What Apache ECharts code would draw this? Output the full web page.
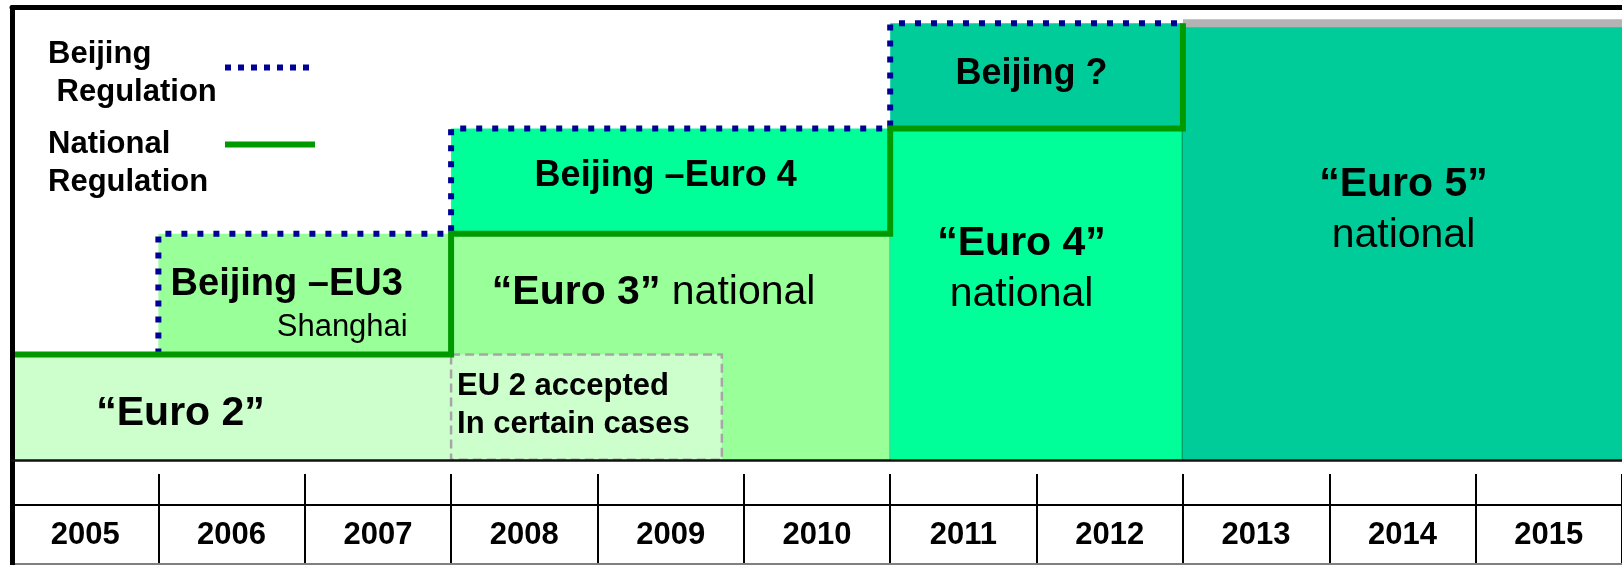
<!DOCTYPE html>
<html>
<head>
<meta charset="utf-8">
<title>Vehicle emission standards in China</title>
<script src="https://cdn.jsdelivr.net/npm/echarts@6/dist/echarts.min.js"></script>
<style>
  html, body { margin: 0; padding: 0; background: #fff; }
  #chart { width: 1622px; height: 565px; }
</style>
</head>
<body>
<div id="chart"></div>
<script>
// years in the table under the chart
var years = ['2005', '2006', '2007', '2008', '2009', '2010', '2011', '2012', '2013', '2014', '2015'];

// national standards (start year, end year, level of the step)
var natStart = [2005, 2008, 2011, 2013];
var natEnd = [2008, 2011, 2013, 2016];
var natLevel = [1, 2.15, 3.15, 4.15];
var natLabel = ['“Euro 2”', '“Euro 3”', '“Euro 4”', '“Euro 5”'];
var natSub = ['', 'national', 'national', 'national'];

// Beijing local standards, sitting on top of the national level of the time
var bjStart = [2006, 2008, 2011];
var bjEnd = [2008, 2011, 2013];
var bjBase = [1, 2.15, 3.15];
var bjLevel = [2.15, 3.15, 4.15];
var bjLabel = ['Beijing –EU3', 'Beijing –Euro 4', 'Beijing ?'];
var bjSub = ['Shanghai', '', ''];

// transition: EU 2 still accepted
var eu2Start = [2008];
var eu2End = [2009.85];
var eu2Level = [1];
var eu2Label = [['EU 2 accepted', 'In certain cases']];

// legend texts
var legendLines = {
  'Beijing Regulation': ['Beijing', ' Regulation'],
  'National Regulation': ['National', 'Regulation']
};

var FONT = '"Liberation Sans", Arial, sans-serif';
var natColors = ['#ccffcc', '#99ff99', '#00ff99', '#00cc99'];
var bjColors = ['#99ff99', '#00ff99', '#00cc99'];

// label placement, px from the box centre / top
var natLayout = [
  { dx: -51, dy: 59 },
  { dx: -17, dy: 59, inline: true },
  { dx: -15, dy: 115, gap: 51 },
  { dx: 1, dy: 161, gap: 51 }
];
var natEdge = [
  null,
  { side: 'right', color: '#8c8c8c', width: 1.5 },
  { side: 'right', color: '#009966', width: 2.5 },
  { side: 'top', color: '#b3b3b3', width: 8 }
];
var bjLayout = [
  { dx: -18, size: 38, dy: 51, subDx: 103, subDy: 94 },
  { dx: -5, size: 36, dy: 48 },
  { dx: -5, size: 36, dy: 51 }
];

var richBig = {
  b: { fontFamily: FONT, fontSize: 41, fontWeight: 'bold', fill: '#000' },
  r: { fontFamily: FONT, fontSize: 41, fill: '#000' }
};

function textEl(x, y, text, rich, align) {
  return {
    type: 'text', x: x, y: y, z2: 10,
    style: { text: text, rich: rich, align: align || 'center', verticalAlign: 'middle', fill: '#000' }
  };
}

function boxRect(api) {
  var tl = api.coord([api.value(0), api.value(3)]);
  var br = api.coord([api.value(1), api.value(2)]);
  return { x: tl[0], y: tl[1], width: br[0] - tl[0], height: br[1] - tl[1] };
}

function renderNational(params, api) {
  var i = params.dataIndex;
  var r = boxRect(api);
  var lay = natLayout[i];
  var cx = r.x + r.width / 2 + lay.dx;
  var kids = [{ type: 'rect', shape: r, style: { fill: natColors[i] } }];
  var e = natEdge[i];
  if (e) {
    var shape = e.side === 'right'
      ? { x1: r.x + r.width, y1: r.y, x2: r.x + r.width, y2: r.y + r.height }
      : { x1: r.x, y1: r.y, x2: r.x + r.width, y2: r.y };
    kids.push({ type: 'line', shape: shape, style: { stroke: e.color, lineWidth: e.width } });
  }
  if (lay.inline) {
    kids.push(textEl(cx, r.y + lay.dy, '{b|' + natLabel[i] + '}{r| ' + natSub[i] + '}', richBig));
  } else {
    kids.push(textEl(cx, r.y + lay.dy, '{b|' + natLabel[i] + '}', richBig));
    if (natSub[i]) {
      kids.push(textEl(cx, r.y + lay.dy + lay.gap, '{r|' + natSub[i] + '}', richBig));
    }
  }
  return { type: 'group', children: kids };
}

function renderBeijing(params, api) {
  var i = params.dataIndex;
  var r = boxRect(api);
  var lay = bjLayout[i];
  var cx = r.x + r.width / 2;
  var kids = [{ type: 'rect', shape: r, style: { fill: bjColors[i] } }];
  kids.push(textEl(cx + lay.dx, r.y + lay.dy, '{b|' + bjLabel[i] + '}', {
    b: { fontFamily: FONT, fontSize: lay.size, fontWeight: 'bold', fill: '#000' }
  }));
  if (bjSub[i]) {
    kids.push(textEl(cx + lay.subDx, r.y + lay.subDy, '{r|' + bjSub[i] + '}', {
      r: { fontFamily: FONT, fontSize: 31, fill: '#000' }
    }, 'right'));
  }
  return { type: 'group', children: kids };
}

function renderEu2(params, api) {
  var i = params.dataIndex;
  var r = boxRect(api);
  var kids = [{
    type: 'rect', shape: r,
    style: { fill: '#ccffcc', stroke: '#a6a6a6', lineWidth: 2.5, lineDash: [9, 5] }
  }];
  eu2Label[i].forEach(function (t, k) {
    kids.push(textEl(r.x + 6, r.y + 32 + k * 38, '{b|' + t + '}', {
      b: { fontFamily: FONT, fontSize: 31, fontWeight: 'bold', fill: '#000' }
    }, 'left'));
  });
  return { type: 'group', children: kids };
}

var natBoxes = natStart.map(function (s, i) { return [s, natEnd[i], 0, natLevel[i]]; });
var bjBoxes = bjStart.map(function (s, i) { return [s, bjEnd[i], bjBase[i], bjLevel[i]]; });
var eu2Boxes = eu2Start.map(function (s, i) { return [s, eu2End[i], 0, eu2Level[i]]; });

// step lines
var natLine = natStart.map(function (s, i) { return [s, natLevel[i]]; });
var bjLine = bjStart.map(function (s, i) { return [s, bjBase[i]]; });
bjLine.push([bjEnd[bjEnd.length - 1], bjLevel[bjLevel.length - 1]]);

function legendRich() {
  return {
    a: { width: 172, align: 'left', fontFamily: FONT, fontSize: 31, fontWeight: 'bold', color: '#000', lineHeight: 38 }
  };
}
function legendFmt(name) {
  return legendLines[name].map(function (l) { return '{a|' + l + '}'; }).join('\n');
}

var chart = echarts.init(document.getElementById('chart'));

var option = {
  animation: false,
  backgroundColor: '#fff',
  legend: [
    {
      data: ['Beijing Regulation'],
      left: 48, top: 39, padding: 0,
      align: 'right', selectedMode: false,
      itemWidth: 90, itemHeight: 14,
      itemStyle: { opacity: 0 },
      lineStyle: { color: '#000099', width: 6, type: [6, 7] },
      formatter: legendFmt,
      textStyle: { padding: [12, 0, 0, 0], rich: legendRich() }
    },
    {
      data: ['National Regulation'],
      left: 48, top: 129, padding: 0,
      align: 'right', selectedMode: false,
      itemWidth: 90, itemHeight: 14,
      itemStyle: { opacity: 0 },
      lineStyle: { color: '#009900', width: 6, type: 'solid' },
      formatter: legendFmt,
      textStyle: { padding: [38, 0, 0, 0], rich: legendRich() }
    }
  ],
  grid: [
    { left: 12, right: 0, top: 7.5, bottom: 0, outerBoundsMode: 'none' },
    { left: 12, right: 0, top: 505, bottom: 1, outerBoundsMode: 'none' }
  ],
  xAxis: [
    {
      gridIndex: 0, type: 'value', min: 2005, max: 2016, z: 10,
      axisLine: { show: true, onZero: true, lineStyle: { color: '#111', width: 2.5 } },
      axisTick: { show: false }, axisLabel: { show: false }, splitLine: { show: false }
    },
    {
      gridIndex: 1, type: 'category', data: years, position: 'top', boundaryGap: true,
      axisLine: { show: true, onZero: false, lineStyle: { color: '#000', width: 2 } },
      axisTick: { show: true, interval: 0, length: 31, lineStyle: { color: '#000', width: 2 } },
      splitLine: { show: true, interval: 0, lineStyle: { color: '#000', width: 2 } },
      axisLabel: {
        inside: true, margin: 15, interval: 0,
        fontFamily: FONT, fontSize: 31, fontWeight: 'bold', color: '#000'
      }
    },
    {
      gridIndex: 0, type: 'value', min: 2005, max: 2016, position: 'top', z: 10,
      axisLine: { show: true, onZero: false, lineStyle: { color: '#000', width: 5 } },
      axisTick: { show: false }, axisLabel: { show: false }, splitLine: { show: false }
    },
    {
      gridIndex: 1, type: 'category', data: years, position: 'bottom',
      axisLine: { show: true, onZero: false, lineStyle: { color: '#808080', width: 2 } },
      axisTick: { show: false }, axisLabel: { show: false }, splitLine: { show: false }
    }
  ],
  yAxis: [
    {
      gridIndex: 0, type: 'value', min: -1, max: 4.3, z: 10,
      axisLine: { show: true, onZero: false, lineStyle: { color: '#000', width: 5 } },
      axisTick: { show: false }, axisLabel: { show: false }, splitLine: { show: false }
    },
    { gridIndex: 1, type: 'value', show: false }
  ],
  series: [
    {
      name: 'Beijing boxes', type: 'custom', xAxisIndex: 0, yAxisIndex: 0, z: 2,
      encode: { x: [0, 1], y: [2, 3] },
      renderItem: renderBeijing, data: bjBoxes
    },
    {
      name: 'National boxes', type: 'custom', xAxisIndex: 0, yAxisIndex: 0, z: 2,
      encode: { x: [0, 1], y: [2, 3] },
      renderItem: renderNational, data: natBoxes
    },
    {
      name: 'EU 2 box', type: 'custom', xAxisIndex: 0, yAxisIndex: 0, z: 3,
      encode: { x: [0, 1], y: [2, 3] },
      renderItem: renderEu2, data: eu2Boxes
    },
    {
      name: 'Beijing Regulation', type: 'line', xAxisIndex: 0, yAxisIndex: 0, z: 5,
      step: 'start', symbol: 'none', data: bjLine,
      lineStyle: { color: '#000099', width: 6, type: [6, 10], join: 'miter' },
      itemStyle: { color: '#000099' }
    },
    {
      name: 'National Regulation', type: 'line', xAxisIndex: 0, yAxisIndex: 0, z: 5,
      step: 'end', symbol: 'none', data: natLine,
      lineStyle: { color: '#009900', width: 6, join: 'miter' },
      itemStyle: { color: '#009900' }
    }
  ]
};

chart.setOption(option);
</script>
</body>
</html>
